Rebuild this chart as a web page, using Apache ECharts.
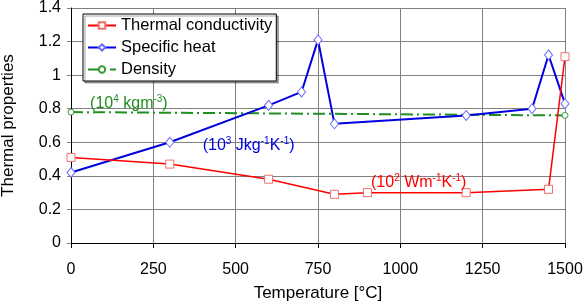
<!DOCTYPE html>
<html>
<head>
<meta charset="utf-8">
<script src="https://cdn.jsdelivr.net/npm/echarts@6/dist/echarts.min.js"></script>
<style>
  html, body { margin: 0; padding: 0; background: #fff; }
  #chart { width: 585px; height: 305px; }
</style>
</head>
<body>
<div id="chart"></div>
<script>
// values
const condTemp = [0, 300, 600, 800, 900, 1200, 1450, 1500]
const condVal = [0.51, 0.47, 0.38, 0.29, 0.30, 0.30, 0.32, 1.11]
const heatTemp = [0, 300, 600, 700, 750, 800, 1200, 1400, 1450, 1500]
const heatVal = [0.42, 0.60, 0.82, 0.90, 1.21, 0.71, 0.76, 0.80, 1.12, 0.83]
const densTemp = [0, 1500]
const densVal = [0.78, 0.76]
const xTicks = [0, 250, 500, 750, 1000, 1250, 1500]
const yTicks = [0, 0.2, 0.4, 0.6, 0.8, 1, 1.2, 1.4]

const font = 'Liberation Sans, Arial, sans-serif'
const pair = (xs, ys) => xs.map((x, i) => [x, ys[i]])

const chart = echarts.init(document.getElementById('chart'))

const option = {
  animation: false,
  backgroundColor: '#fff',
  textStyle: { fontFamily: font },
  grid: { left: 71, right: 20, top: 8, bottom: 62, outerBoundsMode: 'none', containLabel: false },
  legend: {
    orient: 'vertical',
    left: 83,
    top: 14,
    padding: [3, 4, 3, 4],
    itemWidth: 28,
    itemHeight: 8,
    itemGap: 5,
    itemTextGap: 4,
    backgroundColor: '#fff',
    borderColor: '#000',
    borderWidth: 1,
    shadowColor: 'rgba(0,0,0,0.35)',
    shadowOffsetX: 2,
    shadowOffsetY: 2,
    shadowBlur: 0,
    textStyle: { fontSize: 16.5, color: '#000', fontFamily: font },
    data: ['Thermal conductivity', 'Specific heat', 'Density']
  },
  xAxis: {
    type: 'value',
    min: xTicks[0],
    max: xTicks[xTicks.length - 1],
    interval: 250,
    name: 'Temperature [°C]',
    nameLocation: 'middle',
    nameGap: 42,
    nameTextStyle: { fontSize: 17, color: '#000', fontFamily: font },
    axisLine: { lineStyle: { color: '#000', width: 1 } },
    axisTick: { show: true, length: 5, lineStyle: { color: '#000' } },
    axisLabel: { fontSize: 16, color: '#000', margin: 19, fontFamily: font, formatter: v => String(v) },
    splitLine: { show: true, lineStyle: { color: '#808080', width: 1 } }
  },
  yAxis: {
    type: 'value',
    min: yTicks[0],
    max: yTicks[yTicks.length - 1],
    interval: 0.2,
    name: 'Thermal properties',
    nameLocation: 'middle',
    nameGap: 54,
    nameTextStyle: { fontSize: 17, color: '#000', fontFamily: font },
    axisLine: { show: true, lineStyle: { color: '#000', width: 1 } },
    axisTick: { show: true, length: 4, lineStyle: { color: '#808080' } },
    axisLabel: { fontSize: 16, color: '#000', margin: 10, fontFamily: font },
    splitLine: { show: true, lineStyle: { color: '#808080', width: 1 } }
  },
  series: [
    {
      name: 'Thermal conductivity',
      type: 'line',
      data: pair(condTemp, condVal),
      symbol: 'rect',
      symbolSize: 8,
      showAllSymbol: true,
      lineStyle: { color: '#ff0000', width: 1.5 },
      itemStyle: { color: '#fff', borderColor: '#f07070', borderWidth: 1 },
      z: 4
    },
    {
      name: 'Specific heat',
      type: 'line',
      data: pair(heatTemp, heatVal),
      symbol: 'diamond',
      symbolSize: [8, 10],
      showAllSymbol: true,
      lineStyle: { color: '#0000e0', width: 2 },
      itemStyle: { color: '#fff', borderColor: '#6a6aff', borderWidth: 1 },
      z: 3
    },
    {
      name: 'Density',
      type: 'line',
      data: pair(densTemp, densVal),
      symbol: 'circle',
      symbolSize: 6,
      lineStyle: { color: '#1f8f1f', width: 2, type: [12, 4, 2, 4] },
      itemStyle: { color: '#fff', borderColor: '#3a9a3a', borderWidth: 1 },
      z: 2
    }
  ]
}

chart.setOption(option)

// unit labels placed from data coordinates; parts alternate normal / superscript
function unitLabel(pos, color, parts) {
  const p = chart.convertToPixel({ gridIndex: 0 }, pos)
  const txt = parts.map((t, i) => (i % 2 ? '{s|' : '{n|') + t + '}').join('')
  return {
    type: 'text',
    x: p[0],
    y: p[1],
    z: 10,
    style: {
      text: txt,
      verticalAlign: 'middle',
      fill: color,
      rich: {
        n: { fontSize: 16, lineHeight: 16, fontFamily: font, fill: color, verticalAlign: 'bottom' },
        s: { fontSize: 10, lineHeight: 10, padding: [0, 0, 7, 0], fontFamily: font, fill: color, verticalAlign: 'bottom' }
      }
    }
  }
}

chart.setOption({
  graphic: [
    unitLabel([58, 0.83], '#1f8f1f', ['(10', '4', ' kgm', '-3', ')']),
    unitLabel([400, 0.58], '#0000e0', ['(10', '3', ' Jkg', '-1', 'K', '-1', ')']),
    unitLabel([911, 0.36], '#ff0000', ['(10', '2', ' Wm', '-1', 'K', '-1', ')'])
  ]
})
</script>
</body>
</html>
